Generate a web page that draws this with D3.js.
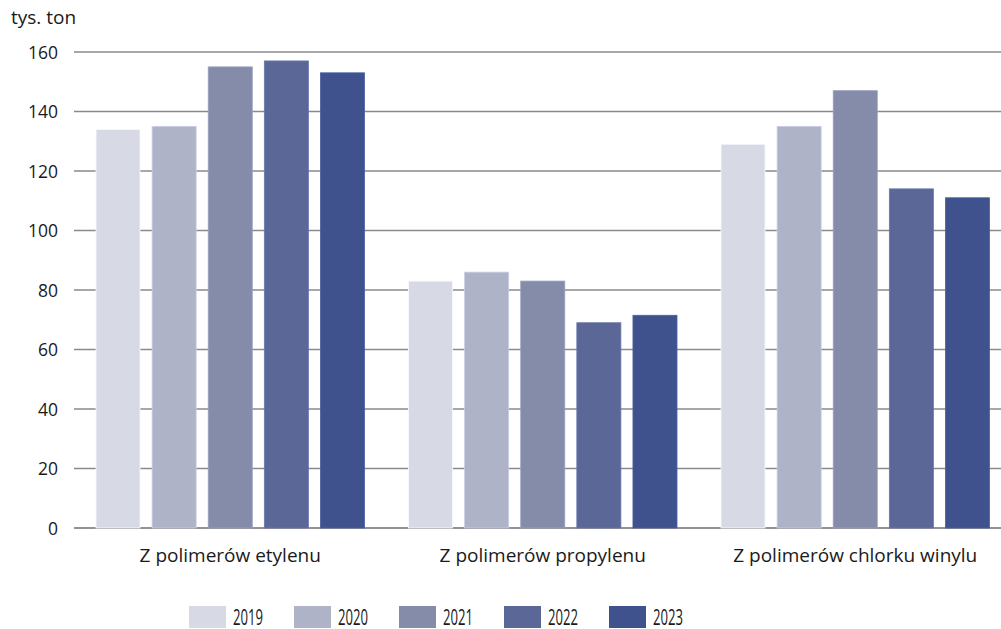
<!DOCTYPE html>
<html><head><meta charset="utf-8">
<script src="https://cdn.jsdelivr.net/npm/d3@7"></script>
<style>
body{margin:0;background:#fff;}
svg{display:block;font-family:"Open Sans","Noto Sans",sans-serif;}
</style></head>
<body><svg id="c" width="1001" height="629"></svg>
<script>
const categories = ["Z polimerów etylenu","Z polimerów propylenu","Z polimerów chlorku winylu"];
const years = ["2019","2020","2021","2022","2023"];
const v2019 = [134, 83, 129];
const v2020 = [135, 86, 135];
const v2021 = [155, 83, 147];
const v2022 = [157, 69, 114];
const v2023 = [153, 71.5, 111];
const yTicks = [0,20,40,60,80,100,120,140,160];
const colors = ["#d7dae4","#aeb3c8","#848ca9","#5b6796","#3f528e"];

const series = [v2019,v2020,v2021,v2022,v2023];
const svg = d3.select("#c");
const x0 = d3.scaleBand().domain(categories).range([74,1011.5]).paddingInner(0).paddingOuter(0);
const x1 = d3.scaleBand().domain(years).range([22, x0.bandwidth()-22]).paddingInner(0.215).paddingOuter(0);
const y = d3.scaleLinear().domain([0,160]).range([528,52]);

svg.append("g").selectAll("line").data(yTicks).join("line")
  .attr("x1",74).attr("x2",1001)
  .attr("y1",d=>y(d)).attr("y2",d=>y(d))
  .attr("stroke",d=>d===0?"#6f6f6f":"#8a8a8a").attr("stroke-width",1.3);

const yAxis = d3.axisLeft(y).tickValues(yTicks).tickSize(0).tickPadding(0);
const ga = svg.append("g").attr("transform","translate(58,0)").call(yAxis);
ga.select(".domain").remove();
ga.attr("font-size",null).attr("font-family",null);
ga.selectAll("text").attr("font-size",17.5).attr("fill","#1a1a1a").attr("dy","0.36em");

svg.append("text").attr("x",11).attr("y",24).attr("font-size",19).attr("fill","#1a1a1a").text("tys. ton");

const g = svg.append("g");
categories.forEach((c,ci)=>{
  years.forEach((yr,si)=>{
    g.append("rect")
      .attr("x", x0(c)+x1(yr))
      .attr("width", x1.bandwidth())
      .attr("y", y(series[si][ci]))
      .attr("height", y(0)-y(series[si][ci]))
      .attr("fill", colors[si])
      .attr("stroke", d3.color(colors[si]).brighter(0.4))
      .attr("stroke-width",0.8);
  });
});

svg.append("g").selectAll("text").data(categories).join("text")
  .attr("x",d=>x0(d)+x0.bandwidth()/2).attr("y",562)
  .attr("text-anchor","middle").attr("font-size",19).attr("fill","#1a1a1a").text(d=>d);

const lg = svg.append("g");
years.forEach((yr,i)=>{
  const lx = 189 + i*105;
  lg.append("rect").attr("x",lx).attr("y",606).attr("width",37).attr("height",22).attr("fill",colors[i]);
  lg.append("text").attr("x",lx+44).attr("y",624.5).attr("font-size",21).attr("fill","#1a1a1a")
    .attr("textLength",30).attr("lengthAdjust","spacingAndGlyphs").text(yr);
});
</script></body></html>
